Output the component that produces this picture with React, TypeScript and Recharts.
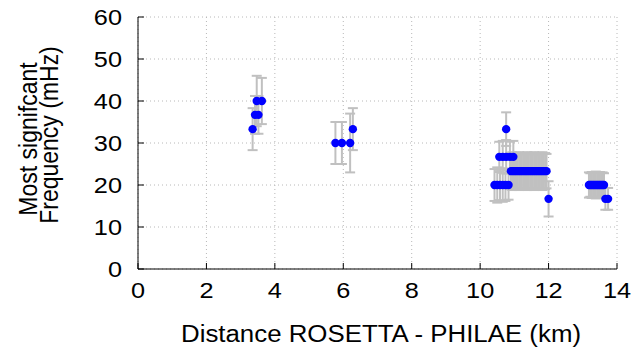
import React from 'react';
import { ScatterChart, Scatter, XAxis, YAxis, CartesianGrid, ErrorBar } from 'recharts';

// distance Rosetta - Philae (km), most significant frequency (mHz), error (mHz)
const distKm = [
  3.35, 3.42, 3.52, 3.47, 3.62,
  5.77, 5.96, 6.2, 6.28,
  10.42, 10.5, 10.58, 10.66, 10.74, 10.83,
  10.56, 10.66, 10.76, 10.87, 10.97,
  10.76,
  10.9, 10.94, 10.98, 11.02, 11.06, 11.1, 11.14, 11.18, 11.22, 11.26, 11.3, 11.34, 11.38, 11.42,
  11.46, 11.5, 11.54, 11.58, 11.62, 11.66, 11.7, 11.74, 11.78, 11.82, 11.86, 11.9, 11.94,
  12.0,
  13.18, 13.22, 13.26, 13.3, 13.34, 13.38, 13.42, 13.46, 13.5, 13.54, 13.58, 13.62,
  13.66, 13.74,
];
const freqMHz = [
  33.3, 36.7, 36.7, 40, 40,
  30, 30, 30, 33.3,
  20, 20, 20, 20, 20, 20,
  26.7, 26.7, 26.7, 26.7, 26.7,
  33.3,
  23.3, 23.3, 23.3, 23.3, 23.3, 23.3, 23.3, 23.3, 23.3, 23.3, 23.3, 23.3, 23.3, 23.3,
  23.3, 23.3, 23.3, 23.3, 23.3, 23.3, 23.3, 23.3, 23.3, 23.3, 23.3, 23.3, 23.3,
  16.7,
  20, 20, 20, 20, 20, 20, 20, 20, 20, 20, 20, 20,
  16.7, 16.7,
];
const errMHz = [
  5, 4.5, 4.5, 6, 5.5,
  5, 5, 7, 5,
  3.8, 4.2, 3.6, 4, 3.8, 3.5,
  3.6, 3.8, 4, 3.6, 3.8,
  4,
  4.3, 4.5, 4, 4.2, 4.4, 4, 4.5, 4.2, 4.1, 4.4, 4, 4.3, 4.5, 4.2,
  4, 4.4, 4.2, 4.5, 4.1, 4.3, 4, 4.4, 4.2, 4.5, 4.1, 4.3, 4.1,
  4.2,
  3, 2.8, 3.1, 2.9, 3, 3.2, 2.8, 3, 3.1, 2.9, 3, 2.8,
  2.6, 2.6,
];
const xTicks = [0, 2, 4, 6, 8, 10, 12, 14];
const yTicks = [0, 10, 20, 30, 40, 50, 60];

const rows = distKm.map((x, i) => ({ x, y: freqMHz[i], err: errMHz[i] }));

const FONT = '"Liberation Sans", Arial, Helvetica, sans-serif';

const BottomTick = ({ x, y, payload }: any) => (
  <g>
    <line x1={x} y1={y} x2={x} y2={y - 6} stroke="#000" />
    <text x={x} y={y + 29} textAnchor="middle" fontSize={22} fontFamily={FONT} fill="#000"
      transform={`translate(${x},0) scale(1.15,1) translate(${-x},0)`}>
      {payload.value}
    </text>
  </g>
);
const TopTick = ({ x, y }: any) => <line x1={x} y1={y} x2={x} y2={y + 6} stroke="#000" />;
const LeftTick = ({ x, y, payload }: any) => (
  <g>
    <line x1={x} y1={y} x2={x + 6} y2={y} stroke="#000" />
    <text x={x - 16} y={y} dy="0.36em" textAnchor="end" fontSize={22} fontFamily={FONT} fill="#000"
      transform={`translate(${x - 16},0) scale(1.15,1) translate(${-(x - 16)},0)`}>
      {payload.value}
    </text>
  </g>
);
const RightTick = ({ x, y }: any) => <line x1={x} y1={y} x2={x - 6} y2={y} stroke="#000" />;

const XTitle = () => (
  <text x={381} y={342} textAnchor="middle" fontSize={23} fontFamily={FONT} fill="#000"
    textLength={400} lengthAdjust="spacingAndGlyphs">
    Distance ROSETTA - PHILAE (km)
  </text>
);
const YTitle = () => (
  <g fontSize={23} fontFamily={FONT} fill="#000" textAnchor="middle">
    <text transform="translate(37,139) scale(1.12,1) rotate(-90)">Most signifcant</text>
    <text transform="translate(58,135) scale(1.12,1) rotate(-90)">Frequency (mHz)</text>
  </g>
);

const Dot = ({ cx, cy }: any) => <circle cx={cx} cy={cy} r={4.2} fill="#0000ff" />;

export default function App() {
  return (
    <div style={{ position: 'absolute', left: 0, top: 0, background: '#fff' }}>
      <ScatterChart width={635} height={350} margin={{ top: 17, right: 18, bottom: 0, left: 0 }}>
        <CartesianGrid xAxisId="b" yAxisId="l" stroke="#b8b8b8" strokeDasharray="1 3" />
        <XAxis
          xAxisId="b"
          type="number"
          dataKey="x"
          domain={[0, 14]}
          ticks={xTicks}
          height={81}
          tickSize={0}
          tickMargin={0}
          tickLine={false}
          axisLine={{ stroke: '#000' }}
          tick={<BottomTick />}
          label={<XTitle />}
        />
        <XAxis
          xAxisId="t"
          orientation="top"
          type="number"
          dataKey="x"
          domain={[0, 14]}
          ticks={xTicks}
          height={0}
          tickSize={0}
          tickMargin={0}
          tickLine={false}
          axisLine={{ stroke: '#000' }}
          tick={<TopTick />}
        />
        <YAxis
          yAxisId="l"
          type="number"
          dataKey="y"
          domain={[0, 60]}
          ticks={yTicks}
          width={138}
          tickSize={0}
          tickMargin={0}
          tickLine={false}
          axisLine={{ stroke: '#000' }}
          tick={<LeftTick />}
          label={<YTitle />}
        />
        <YAxis
          yAxisId="r"
          orientation="right"
          type="number"
          dataKey="y"
          domain={[0, 60]}
          ticks={yTicks}
          width={0}
          tickSize={0}
          tickMargin={0}
          tickLine={false}
          axisLine={{ stroke: '#000' }}
          tick={<RightTick />}
        />
        <Scatter data={rows} xAxisId="b" yAxisId="l" fill="#0000ff" shape={<Dot />} isAnimationActive={false}>
          <ErrorBar dataKey="err" direction="y" width={5} stroke="#c0c0c0" strokeWidth={2} isAnimationActive={false} />
        </Scatter>
      </ScatterChart>
    </div>
  );
}
